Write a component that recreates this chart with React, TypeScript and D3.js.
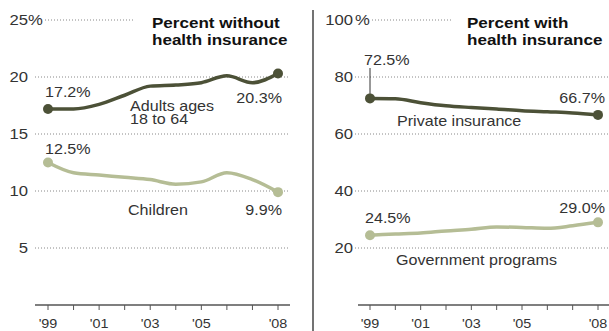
import React from "react";
import * as d3 from "d3";

const years = [1999, 2000, 2001, 2002, 2003, 2004, 2005, 2006, 2007, 2008];
const adults = [17.2, 17.2, 17.6, 18.4, 19.2, 19.3, 19.5, 20.1, 19.5, 20.3];
const children = [12.5, 11.6, 11.4, 11.2, 11.0, 10.6, 10.8, 11.6, 11.0, 9.9];
const privateIns = [72.5, 72.4, 71.0, 69.9, 69.3, 68.8, 68.2, 67.8, 67.4, 66.7];
const govt = [24.5, 24.9, 25.3, 26.0, 26.6, 27.4, 27.2, 26.9, 27.8, 29.0];
const tickYears = [1999, 2001, 2003, 2005, 2008];
const tickLabels = ["'99", "'01", "'03", "'05", "'08"];
const leftTicks = [5, 10, 15, 20, 25];
const rightTicks = [20, 40, 60, 80, 100];

const DARK = "#4c5137";
const LIGHT = "#b5bd95";
const TEXT = "#333";
const FONT = "'Liberation Sans', Arial, sans-serif";
const SX = 1.15;

function T({ x, y, children, size = 14, anchor = "start", weight = "normal", fill = TEXT, sx = SX }: any) {
  return (
    <text
      transform={`translate(${x},${y}) scale(${sx},1)`}
      fontSize={size}
      fontFamily={FONT}
      textAnchor={anchor}
      fontWeight={weight}
      fill={fill}
    >
      {children}
    </text>
  );
}

export default function App() {
  const yBase = 305;
  const yL = d3.scaleLinear().domain([0, 25]).range([yBase, 20]);
  const yR = d3.scaleLinear().domain([0, 100]).range([yBase, 20]);
  const xL = d3.scaleLinear().domain([1999, 2008]).range([48, 278]);
  const xR = d3.scaleLinear().domain([1999, 2008]).range([370, 598]);

  const lineL = d3.line<number>().x((_, i) => xL(years[i])).y((d) => yL(d)).curve(d3.curveMonotoneX);
  const lineR = d3.line<number>().x((_, i) => xR(years[i])).y((d) => yR(d)).curve(d3.curveMonotoneX);

  const last = years.length - 1;

  return (
    <svg width={609} height={331} style={{ position: "absolute", left: 0, top: 0, background: "#fff" }}>
      {/* Left gridlines */}
      {leftTicks.map((t) => (
        <g key={"lg" + t}>
          <line
            x1={t === 25 ? 45 : 35}
            x2={t === 25 ? 133 : 290}
            y1={yL(t)}
            y2={yL(t)}
            stroke="#888"
            strokeWidth={1}
            strokeDasharray="1,2"
          />
          <T x={28} y={yL(t) + 5} anchor="end" size={14.5}>
            {String(t)}
          </T>
          {t === 25 && (
            <T x={28} y={yL(t) + 5} anchor="start" size={14.5}>
              %
            </T>
          )}
        </g>
      ))}
      {/* Right gridlines */}
      {rightTicks.map((t) => (
        <g key={"rg" + t}>
          <line
            x1={t === 100 ? 372 : 355}
            x2={t === 100 ? 452 : 609}
            y1={yR(t)}
            y2={yR(t)}
            stroke="#888"
            strokeWidth={1}
            strokeDasharray="1,2"
          />
          <T x={353} y={yR(t) + 5} anchor="end" size={14.5}>
            {String(t)}
          </T>
          {t === 100 && (
            <T x={355} y={yR(t) + 5} anchor="start" size={14.5}>
              %
            </T>
          )}
        </g>
      ))}

      {/* Titles */}
      <T x={152} y={28} size={15.5} weight="bold" fill="#111" sx={1.1}>Percent without</T>
      <T x={152} y={45} size={15.5} weight="bold" fill="#111" sx={1.1}>health insurance</T>
      <T x={467} y={28} size={15.5} weight="bold" fill="#111" sx={1.1}>Percent with</T>
      <T x={467} y={45} size={15.5} weight="bold" fill="#111" sx={1.1}>health insurance</T>

      {/* Divider */}
      <line x1={313} x2={313} y1={10} y2={331} stroke="#444" strokeWidth={1.5} />

      {/* X axes */}
      <line x1={35} x2={290} y1={yBase} y2={yBase} stroke="#555" strokeWidth={1.5} />
      {years.map((yr) => (
        <line key={"lt" + yr} x1={xL(yr)} x2={xL(yr)} y1={yBase} y2={yBase + 5} stroke="#555" strokeWidth={1} />
      ))}
      {tickYears.map((yr, i) => (
        <T key={"ll" + yr} x={xL(yr)} y={328} anchor="middle" size={12.5}>
          {tickLabels[i]}
        </T>
      ))}
      <line x1={358} x2={609} y1={yBase} y2={yBase} stroke="#555" strokeWidth={1.5} />
      {years.map((yr) => (
        <line key={"rt" + yr} x1={xR(yr)} x2={xR(yr)} y1={yBase} y2={yBase + 5} stroke="#555" strokeWidth={1} />
      ))}
      {tickYears.map((yr, i) => (
        <T key={"rl" + yr} x={xR(yr)} y={328} anchor="middle" size={12.5}>
          {tickLabels[i]}
        </T>
      ))}

      {/* Left lines */}
      <path d={lineL(adults) || ""} fill="none" stroke={DARK} strokeWidth={3.5} strokeLinejoin="round" />
      <path d={lineL(children) || ""} fill="none" stroke={LIGHT} strokeWidth={3.5} strokeLinejoin="round" />
      {[0, last].map((i) => (
        <g key={"lp" + i}>
          <circle cx={xL(years[i])} cy={yL(adults[i])} r={5} fill={DARK} />
          <circle cx={xL(years[i])} cy={yL(children[i])} r={5} fill={LIGHT} />
        </g>
      ))}

      {/* Right lines */}
      <line x1={xR(years[0])} x2={xR(years[0])} y1={68} y2={yR(privateIns[0])} stroke="#333" strokeWidth={1} />
      <path d={lineR(privateIns) || ""} fill="none" stroke={DARK} strokeWidth={3.5} strokeLinejoin="round" />
      <path d={lineR(govt) || ""} fill="none" stroke={LIGHT} strokeWidth={3.5} strokeLinejoin="round" />
      {[0, last].map((i) => (
        <g key={"rp" + i}>
          <circle cx={xR(years[i])} cy={yR(privateIns[i])} r={5} fill={DARK} />
          <circle cx={xR(years[i])} cy={yR(govt[i])} r={5} fill={LIGHT} />
        </g>
      ))}

      {/* Left labels */}
      <T x={xL(years[0]) - 3} y={yL(adults[0]) - 12}>{adults[0].toFixed(1)}%</T>
      <T x={xL(years[last]) + 4} y={yL(adults[last]) + 29} anchor="end">{adults[last].toFixed(1)}%</T>
      <T x={130} y={111}>Adults ages</T>
      <T x={130} y={124}>18 to 64</T>
      <T x={xL(years[0]) - 3} y={yL(children[0]) - 9}>{children[0].toFixed(1)}%</T>
      <T x={128} y={215}>Children</T>
      <T x={xL(years[last]) + 4} y={215} anchor="end">{children[last].toFixed(1)}%</T>

      {/* Right labels */}
      <T x={xR(years[0]) - 6} y={65}>{privateIns[0].toFixed(1)}%</T>
      <T x={xR(years[last]) + 7} y={103} anchor="end">{privateIns[last].toFixed(1)}%</T>
      <T x={397} y={126}>Private insurance</T>
      <T x={xR(years[0]) - 5} y={223}>{govt[0].toFixed(1)}%</T>
      <T x={xR(years[last]) + 7} y={213} anchor="end">{govt[last].toFixed(1)}%</T>
      <T x={396} y={265}>Government programs</T>
    </svg>
  );
}
